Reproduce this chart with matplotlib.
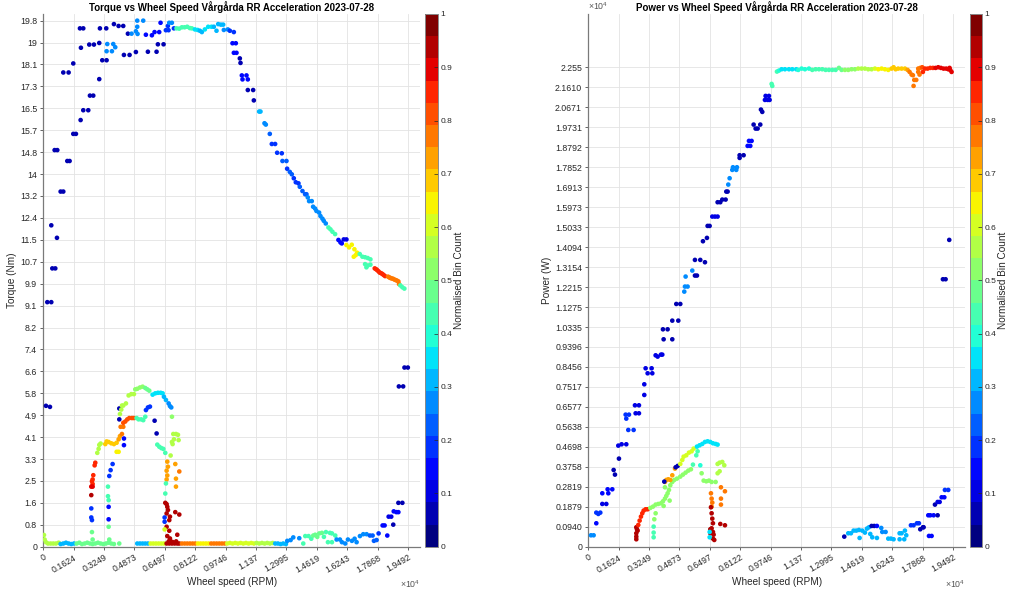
import numpy as np
import matplotlib
matplotlib.use("Agg")
import matplotlib.pyplot as plt
from matplotlib.colors import Normalize
import matplotlib.colorbar as mcolorbar

plt.rcParams['font.family'] = ['Liberation Sans', 'DejaVu Sans']
plt.rcParams['mathtext.fontset'] = 'custom'
plt.rcParams['mathtext.rm'] = 'Liberation Sans'

# ---------------- Torque vs wheel speed data (RPM, Nm, normalised bin count) -------------
tq_low_rpm = [214, 427, 142, 356, 427, 730, 481, 641, 605, 748, 1282, 1406, 926, 1068, 1602, 1744,
              1994, 2136, 2403, 2492, 2670, 1068, 1353, 1602, 2990, 2011, 1958, 2136, 2456, 2706,
              2990, 3026, 3364, 3151, 3382]
tq_low_nm = [9.20, 9.20, 5.30, 5.26, 12.09, 11.62, 10.47, 10.47, 14.92, 14.92, 14.51, 14.51, 13.36,
             13.36, 15.53, 15.53, 16.05, 16.42, 16.42, 16.97, 16.97, 17.84, 17.84, 18.18, 17.59,
             18.77, 19.50, 19.50, 18.89, 18.89, 18.95, 19.50, 19.50, 18.30, 18.30]
tq_low_c = [0.07] * len(tq_low_rpm)

tq_top_rpm = [3418, 3382, 3667, 3738, 3845, 3774, 4023, 4272, 4308, 4610, 4521, 4717, 4948, 5020,
              5020, 4948, 5037, 5340, 5482, 5803, 5945, 6194, 5589, 6052, 6123, 6426, 6266, 6550,
              6693, 6657, 6728, 6871, 6978, 7120, 7262, 7405, 7547, 7690, 7832, 7939, 8102, 8245,
              8366, 8473, 8633, 8811, 8989, 9114, 9256, 9345, 9487, 9612, 9648, 9861, 9968, 10182]
tq_top_nm = [18.91, 18.64, 18.64, 18.91, 18.79, 19.66, 19.59, 19.59, 18.50, 18.50, 19.30, 19.30,
             18.61, 19.79, 19.56, 19.39, 19.29, 19.79, 19.26, 19.24, 19.36, 19.36, 18.62, 18.62,
             18.90, 18.90, 19.71, 19.43, 19.43, 19.59, 19.71, 19.71, 19.50, 19.50, 19.49, 19.54,
             19.54, 19.56, 19.51, 19.50, 19.46, 19.44, 19.41, 19.36, 19.46, 19.56, 19.56, 19.56,
             19.41, 19.66, 19.64, 19.64, 19.44, 19.46, 19.41, 19.36]
tq_top_c = [0.25, 0.25, 0.25, 0.25, 0.25, 0.07, 0.07, 0.07, 0.07, 0.07, 0.07, 0.25, 0.07, 0.28,
            0.28, 0.28, 0.28, 0.28, 0.15, 0.15, 0.15, 0.15, 0.07, 0.07, 0.07, 0.07, 0.15, 0.2,
            0.2, 0.2, 0.25, 0.25, 0.2, 0.45, 0.45, 0.45, 0.45, 0.45, 0.45, 0.42, 0.35, 0.35,
            0.33, 0.33, 0.35, 0.35, 0.35, 0.33, 0.3, 0.32, 0.32, 0.32, 0.25, 0.25, 0.2, 0.2]

tq_fall_rpm = [10110, 10288, 10182, 10324, 10502, 10538, 10609, 10858, 10645, 10929, 10929, 11214,
               11250, 11534, 11606, 11820, 11891, 12104, 12211, 12389, 12496, 12745, 12780, 12994,
               13030, 13172, 13279, 13386, 13493, 13635, 13706, 13849, 13991, 14062, 14133, 14204,
               14347, 14418, 14525, 14596, 14738, 14810, 14916, 14988, 15094, 15237, 15344, 15451,
               15593, 15771, 15878, 15949, 16056, 16198, 16198, 16340, 16483, 16625, 16590, 16696,
               16768, 16910, 17052, 17195, 17337, 17480, 17195, 17337, 17480, 17266, 17711, 17780,
               17836, 17910, 17978, 18050, 18120, 18190, 18263, 18423, 18490, 18548, 18620, 18690,
               18760, 18832, 18900, 18975, 19010, 19082, 19188, 19295, 19000, 19230, 19300, 19480]
tq_fall_nm = [18.94, 18.94, 18.58, 18.58, 18.37, 18.20, 17.73, 17.73, 17.58, 17.58, 17.18, 17.18,
              16.79, 16.37, 16.37, 15.93, 15.88, 15.53, 15.15, 15.15, 14.82, 14.80, 14.51, 14.51,
              14.22, 14.10, 14.01, 13.86, 13.71, 13.67, 13.54, 13.38, 13.26, 13.26, 13.14, 13.00,
              13.00, 12.79, 12.72, 12.63, 12.57, 12.44, 12.34, 12.26, 12.16, 12.01, 11.94, 11.85,
              11.76, 11.54, 11.45, 11.41, 11.56, 11.56, 11.35, 11.26, 11.36, 11.19, 10.91, 10.97,
              11.06, 11.01, 10.91, 10.89, 10.86, 10.81, 10.63, 10.58, 10.61, 10.51, 10.47, 10.44,
              10.41, 10.36, 10.31, 10.29, 10.26, 10.22, 10.18, 10.16, 10.13, 10.11, 10.09, 10.08,
              10.05, 10.03, 10.01, 9.98, 9.88, 9.83, 9.76, 9.71, 6.03, 6.03, 6.74, 6.74]
tq_fall_c = [0.15, 0.15, 0.15, 0.15, 0.07, 0.07, 0.15, 0.15, 0.15, 0.15, 0.07, 0.07, 0.07, 0.3, 0.3,
             0.28, 0.28, 0.22, 0.2, 0.2, 0.2, 0.2, 0.22, 0.22, 0.2, 0.22, 0.22, 0.2, 0.2, 0.2, 0.22,
             0.22, 0.22, 0.22, 0.25, 0.25, 0.25, 0.25, 0.25, 0.25, 0.25, 0.25, 0.25, 0.25, 0.25,
             0.45, 0.45, 0.45, 0.45, 0.15, 0.15, 0.15, 0.1, 0.1, 0.65, 0.65, 0.65, 0.65, 0.65, 0.65,
             0.65, 0.42, 0.42, 0.42, 0.42, 0.42, 0.42, 0.42, 0.42, 0.42, 0.85, 0.85, 0.85, 0.85,
             0.85, 0.85, 0.85, 0.85, 0.85, 0.75, 0.75, 0.75, 0.75, 0.75, 0.75, 0.75, 0.75, 0.75,
             0.75, 0.42, 0.42, 0.42, 0.07, 0.07, 0.07, 0.07]

tq_arch_rpm = [2778, 2743, 2671, 2636, 2600, 2636, 2564, 2636, 2564, 2564, 2564, 2600, 2600, 2636,
               2885, 2956, 2992, 3063, 3313, 3384, 3491, 3633, 3776, 3918, 4025, 4096, 4203, 4132,
               4274, 4274, 4381, 4488, 4595, 4737, 4844, 4061, 4061, 4310, 4310, 3918, 4025, 4987,
               5093, 5236, 5342, 5449, 4096, 4167, 4274, 4203, 4417, 4559, 4701, 4844, 4915, 5022,
               5165, 5307, 5449, 5556, 5663, 5841, 5983, 6127, 6270, 6376, 6447, 6554, 6697, 6768,
               6839, 3491, 3491, 3491, 3526, 3455, 3455, 3491, 3526, 3597, 3704, 5485, 5592, 5699,
               5948, 6055, 6091, 6198, 6305, 6412, 6519, 6875, 6946, 7089, 7196, 7231, 6982, 6910,
               6804, 6875, 6626, 6661, 6590, 6626, 6590, 7053, 7267, 7089, 7089, 6554, 6519, 6519,
               6590, 6626, 6661, 6590, 6768, 6732, 6590, 6732, 6626, 6768, 6768, 6483, 6483, 6483,
               7053, 7267, 7160]
tq_arch_nm = [3.16, 3.06, 2.69, 2.53, 2.46, 2.36, 2.26, 2.26, 1.94, 1.44, 1.10, 1.00, 0.55, 0.27,
              3.53, 3.68, 3.83, 3.88, 3.86, 3.96, 3.94, 3.89, 3.86, 3.91, 4.04, 4.16, 4.24, 4.51,
              4.51, 4.66, 4.71, 4.79, 4.84, 4.84, 4.84, 5.20, 4.79, 4.07, 3.82, 3.57, 3.57, 4.84,
              4.79, 4.79, 4.76, 4.89, 4.99, 5.16, 5.31, 5.31, 5.39, 5.69, 5.74, 5.74, 5.92, 5.94,
              5.99, 6.02, 5.97, 5.92, 5.87, 5.72, 5.77, 5.79, 5.79, 5.77, 5.64, 5.52, 5.39, 5.29,
              5.24, 1.50, 1.03, 0.75, 0.27, 2.26, 1.90, 1.75, 2.66, 2.88, 3.11, 5.14, 5.24, 5.27,
              4.74, 4.26, 3.84, 3.76, 3.71, 3.68, 3.53, 4.89, 4.24, 4.24, 4.21, 4.01, 4.04, 3.86,
              3.43, 3.94, 3.20, 3.01, 2.86, 2.68, 2.53, 3.11, 2.83, 2.56, 2.26, 2.38, 2.00, 1.65,
              1.60, 1.50, 1.38, 1.25, 1.13, 1.00, 0.75, 0.60, 0.40, 0.31, 0.22, 1.10, 0.94, 0.65,
              1.30, 1.21, 0.45]
tq_arch_c = [0.85, 0.85, 0.85, 0.85, 0.85, 0.85, 0.88, 0.88, 0.92, 0.17, 0.17, 0.17, 0.48, 0.48,
             0.55, 0.55, 0.55, 0.55, 0.7, 0.7, 0.7, 0.7, 0.7, 0.7, 0.72, 0.72, 0.75, 0.78, 0.78, 0.8,
             0.8, 0.8, 0.8, 0.8, 0.8, 0.07, 0.07, 0.15, 0.15, 0.65, 0.65, 0.45, 0.45, 0.45, 0.45,
             0.45, 0.55, 0.55, 0.55, 0.55, 0.55, 0.55, 0.55, 0.55, 0.5, 0.5, 0.5, 0.5, 0.48, 0.48,
             0.48, 0.35, 0.35, 0.35, 0.35, 0.35, 0.33, 0.3, 0.27, 0.25, 0.25, 0.15, 0.15, 0.48,
             0.48, 0.42, 0.42, 0.42, 0.18, 0.18, 0.18, 0.2, 0.2, 0.2, 0.07, 0.07, 0.45, 0.45, 0.45,
             0.45, 0.45, 0.5, 0.55, 0.55, 0.55, 0.55, 0.55, 0.55, 0.55, 0.55, 0.72, 0.72, 0.72,
             0.72, 0.72, 0.72, 0.75, 0.72, 0.72, 0.45, 0.45, 0.95, 0.95, 0.95, 0.95, 0.95, 0.95,
             0.95, 0.95, 0.95, 0.95, 0.95, 0.95, 0.2, 0.2, 0.6, 0.95, 0.95, 0.95]

tq_base_rpm = [36, 71, 142, 249, 392, 534, 677, 819, 926, 1068, 1211, 1353, 1496, 1639, 1781, 1923,
               2065, 2208, 2350, 2492, 2635, 2777, 2919, 3062, 3204, 3346, 3489, 3631, 3774, 4059,
               5022, 5165, 5307, 5450, 5592, 5735, 5877, 6020, 6162, 6305, 6447, 6590, 6732, 6875,
               7017, 7160, 7267, 6700, 6900, 7100, 7409, 7552, 7694, 7836, 7979, 8121, 8264, 8406,
               8549, 8691, 8833, 8976, 9118, 9261, 9403, 9545, 9688, 9830, 9973, 10115, 10258,
               10400, 10543, 10685, 10828, 10970, 11113, 11255, 11398, 11540, 11683, 11825, 11968,
               12110, 12253, 12395, 12538, 12680, 12823, 12965, 13037, 13216, 13358, 13678, 13892,
               13999, 14177, 14320, 14427, 14533, 14640, 14747, 14889, 14996, 15103, 15210, 15317,
               15424, 15602, 15424, 15673, 15851, 15958, 16136, 16279, 16492, 16635, 16742, 16920,
               17098, 17276, 17454, 17597, 17668, 17811, 17918, 18132, 18239, 18382, 18454, 18594,
               18701, 18726, 18868, 18975, 18975, 19188]
tq_base_nm = [0.44, 0.27, 0.17, 0.12, 0.12, 0.12, 0.12, 0.15, 0.10, 0.12, 0.15, 0.12, 0.10, 0.12,
              0.12, 0.15, 0.10, 0.12, 0.15, 0.12, 0.10, 0.12, 0.15, 0.12, 0.10, 0.12, 0.15, 0.12,
              0.10, 0.12, 0.12, 0.12, 0.12, 0.12, 0.12, 0.12, 0.12, 0.12, 0.12, 0.12, 0.12, 0.12,
              0.12, 0.12, 0.12, 0.12, 0.12, 0.20, 0.18, 0.20, 0.12, 0.12, 0.12, 0.12, 0.12, 0.12,
              0.12, 0.12, 0.12, 0.12, 0.12, 0.12, 0.12, 0.12, 0.12, 0.12, 0.12, 0.12, 0.14, 0.12,
              0.14, 0.12, 0.14, 0.12, 0.14, 0.12, 0.14, 0.12, 0.14, 0.12, 0.14, 0.12, 0.14, 0.12,
              0.14, 0.12, 0.12, 0.10, 0.12, 0.10, 0.22, 0.25, 0.35, 0.32, 0.12, 0.40, 0.40, 0.30,
              0.42, 0.45, 0.37, 0.50, 0.52, 0.37, 0.55, 0.17, 0.52, 0.50, 0.42, 0.17, 0.27, 0.27,
              0.17, 0.12, 0.27, 0.22, 0.30, 0.17, 0.40, 0.47, 0.47, 0.42, 0.42, 0.22, 0.25, 0.50,
              0.80, 0.80, 0.42, 1.13, 1.13, 0.83, 1.33, 1.30, 1.30, 1.65, 1.65]
tq_base_c = [0.55, 0.55, 0.55, 0.55, 0.55, 0.55, 0.55, 0.55, 0.33, 0.33, 0.33, 0.33, 0.33, 0.33,
             0.47, 0.47, 0.47, 0.47, 0.47, 0.47, 0.47, 0.47, 0.47, 0.47, 0.47, 0.47, 0.47, 0.47,
             0.47, 0.47, 0.3, 0.3, 0.3, 0.3, 0.3, 0.6, 0.6, 0.6, 0.6, 0.6, 0.6, 0.95, 0.95, 0.95,
             0.95, 0.95, 0.95, 0.95, 0.95, 0.95, 0.75, 0.75, 0.75, 0.75, 0.75, 0.75, 0.65, 0.65,
             0.65, 0.65, 0.65, 0.75, 0.75, 0.75, 0.75, 0.75, 0.75, 0.6, 0.6, 0.6, 0.6, 0.6, 0.6,
             0.6, 0.6, 0.6, 0.6, 0.6, 0.55, 0.55, 0.55, 0.55, 0.55, 0.55, 0.55, 0.3, 0.3, 0.3, 0.3,
             0.3, 0.25, 0.25, 0.25, 0.25, 0.45, 0.45, 0.45, 0.45, 0.47, 0.47, 0.47, 0.47, 0.47,
             0.45, 0.45, 0.45, 0.45, 0.45, 0.45, 0.45, 0.27, 0.27, 0.27, 0.27, 0.27, 0.25, 0.25,
             0.25, 0.25, 0.25, 0.25, 0.22, 0.22, 0.22, 0.22, 0.2, 0.15, 0.15, 0.15, 0.1, 0.1, 0.07,
             0.15, 0.15, 0.15, 0.07, 0.07]

# ---------------- Power vs wheel speed data (RPM, W, normalised bin count) -------------
pw_rise_rpm = [142, 285, 427, 427, 534, 641, 748, 962, 748, 1069, 1033, 1282, 1354, 1425, 1638,
               1603, 1781, 2030, 2137, 2422, 1995, 2173, 2030, 2493, 2707, 2529, 2707, 2992, 2992,
               3063, 3384, 3170, 3420, 3598, 3705, 3883, 3954, 3989, 4239, 4025, 4488, 4488, 4809,
               4702, 4916, 5129, 5165, 5307, 5200, 5557, 5699, 5806, 5699, 5984, 6234, 6127, 6340,
               6376, 6483, 6626, 6768, 6910, 6910, 7053, 7160, 7338, 7374, 7445, 7480, 7552, 7694,
               7943, 7730, 7907, 8086, 8086, 8300, 8514, 8656, 8585, 8727, 8834, 8941, 9048, 9190,
               9226, 9297, 9439, 9582, 9475, 9653, 9689, 9796, 9831, 10081, 10188]
pw_rise_w = [537, 537, 1102, 1603, 1541, 1603, 2011, 2011, 2513, 2513, 2701, 2701, 3610, 3391,
             4144, 4755, 4818, 4818, 5492, 5492, 6213, 6213, 6025, 6652, 6652, 6276, 6276, 7640,
             7138, 8393, 8393, 8158, 8158, 9004, 8942, 9036, 9036, 10227, 10227, 9757, 9757, 10635,
             10635, 11419, 11419, 12000, 12238, 12238, 12708, 12990, 12755, 12755, 13492, 13492,
             13382, 14370, 14527, 15091, 15091, 15530, 15530, 15530, 16205, 16205, 16330, 16330,
             16706, 16706, 17036, 17334, 17726, 17851, 17851, 17726, 18416, 18290, 18416, 18855,
             18855, 19090, 19090, 19858, 19670, 19670, 19858, 20564, 20454, 21018, 21018, 21207,
             21207, 21018, 21771, 21677, 22351, 22398]
pw_rise_c = [0.25, 0.25, 0.15, 0.18, 0.18, 0.18, 0.12, 0.12, 0.15, 0.15, 0.15, 0.15, 0.07, 0.07,
             0.07, 0.12, 0.12, 0.12, 0.2, 0.2, 0.2, 0.2, 0.2, 0.12, 0.12, 0.12, 0.12, 0.1, 0.1,
             0.12, 0.12, 0.12, 0.12, 0.12, 0.12, 0.12, 0.12, 0.07, 0.07, 0.07, 0.07, 0.07, 0.07,
             0.07, 0.07, 0.25, 0.25, 0.25, 0.25, 0.25, 0.07, 0.07, 0.07, 0.07, 0.07, 0.07, 0.07,
             0.07, 0.07, 0.1, 0.1, 0.1, 0.07, 0.07, 0.07, 0.07, 0.07, 0.07, 0.25, 0.25, 0.25, 0.25,
             0.25, 0.25, 0.07, 0.07, 0.07, 0.15, 0.15, 0.15, 0.15, 0.07, 0.07, 0.07, 0.07, 0.07,
             0.07, 0.12, 0.12, 0.12, 0.12, 0.12, 0.42, 0.42, 0.42, 0.38]

pw_flat_rpm = [10330, 10508, 10722, 10900, 11114, 11221, 11399, 11577, 11791, 11968, 12146, 12325,
               12503, 12681, 12859, 13037, 13216, 13394, 13536, 13714, 13892, 14070, 14248, 14426,
               14604, 14782, 14960, 15139, 15317, 15495, 15673, 15851, 16029, 16207, 16314, 16421,
               16563, 16741, 16919, 17062, 17168, 17275, 17346, 17418, 17524, 17382, 17630, 17701,
               17630, 17737, 17844, 17879, 17987, 18130, 18272, 18415, 18557, 18700, 18842, 18985,
               19128, 19235, 19341, 19413, 19306, 19288, 18950, 19093]
pw_flat_w = [22461, 22461, 22461, 22461, 22461, 22430, 22492, 22461, 22492, 22430, 22461, 22461,
             22461, 22430, 22430, 22430, 22430, 22524, 22430, 22430, 22430, 22461, 22461, 22492,
             22492, 22492, 22461, 22461, 22492, 22461, 22492, 22461, 22430, 22492, 22555, 22461,
             22492, 22492, 22492, 22430, 22335, 22210, 22179, 21959, 21959, 21677, 22335, 22210,
             22492, 22524, 22555, 22335, 22492, 22492, 22524, 22524, 22524, 22555, 22524, 22492,
             22492, 22461, 22430, 22335, 22524, 14433, 12582, 12582]
pw_flat_c = [0.35, 0.35, 0.35, 0.36, 0.37, 0.38, 0.38, 0.4, 0.4, 0.42, 0.42, 0.45, 0.45, 0.45, 0.45,
             0.45, 0.45, 0.47, 0.48, 0.5, 0.5, 0.5, 0.52, 0.55, 0.55, 0.57, 0.58, 0.58, 0.6, 0.63,
             0.65, 0.65, 0.65, 0.68, 0.7, 0.7, 0.7, 0.7, 0.7, 0.72, 0.75, 0.75, 0.75, 0.75, 0.75,
             0.75, 0.75, 0.75, 0.75, 0.78, 0.82, 0.85, 0.85, 0.85, 0.85, 0.85, 0.88, 0.88, 0.9,
             0.9, 0.9, 0.9, 0.88, 0.9, 0.9, 0.07, 0.07, 0.07]

pw_arch_rpm = [2565, 2600, 2565, 2565, 2565, 2636, 2671, 2743, 2814, 2885, 2956, 3063, 3170, 3313,
               3456, 3598, 3740, 3883, 3989, 4096, 4167, 4239, 4310, 4381, 4488, 4595, 4738, 4916,
               5058, 5200, 5343, 5485, 5592, 5770, 4025, 3598, 3527, 3491, 3491, 3491, 4096, 4346,
               4096, 4167, 4274, 4381, 4488, 4631, 4061, 4667, 4774, 4916, 5022, 5094, 5236, 5378,
               5521, 5628, 5842, 5806, 5948, 6091, 6234, 6376, 6519, 6661, 6804, 6910, 5984, 6056,
               6163, 6305, 6447, 6590, 6804, 6910, 7017, 7160, 7267, 6910, 7017, 6555, 6590, 6626,
               6590, 7089, 7302, 7089, 7089, 6555, 6590, 6626, 6661, 6590, 6661, 6697, 6661, 6732,
               6519, 6519, 6484, 6484, 7053, 7302]
pw_arch_w = [914, 819, 631, 475, 349, 756, 1023, 1227, 1415, 1572, 1697, 1760, 1760, 1823, 1885,
             1980, 2011, 2042, 2136, 2262, 2387, 2513, 2670, 2889, 3046, 3140, 3203, 3297, 3391,
             3485, 3579, 3642, 3861, 4300, 1917, 1572, 1290, 945, 663, 443, 2795, 2168, 3046, 3140,
             3171, 3140, 3360, 3673, 3062, 3736, 3799, 3893, 4081, 4237, 4300, 4426, 4488, 4614,
             4488, 4708, 4771, 4834, 4928, 4959, 4928, 4865, 4834, 4803, 3830, 3454, 3109, 3077,
             3109, 3046, 3046, 3893, 3955, 3987, 3830, 3454, 3548, 2513, 2262, 2074, 1885, 2795,
             2607, 2262, 1980, 1854, 1572, 1321, 1102, 866, 694, 568, 380, 317, 631, 819, 694, 443,
             1070, 1008]
pw_arch_c = [0.95, 0.95, 0.95, 0.95, 0.95, 0.95, 0.87, 0.87, 0.87, 0.85, 0.85, 0.85, 0.85, 0.5,
             0.5, 0.5, 0.5, 0.5, 0.5, 0.5, 0.5, 0.5, 0.5, 0.5, 0.5, 0.5, 0.5, 0.5, 0.5, 0.5, 0.5,
             0.5, 0.45, 0.42, 0.5, 0.5, 0.5, 0.45, 0.45, 0.45, 0.5, 0.5, 0.72, 0.72, 0.72, 0.72,
             0.72, 0.72, 0.07, 0.07, 0.07, 0.6, 0.6, 0.6, 0.6, 0.6, 0.6, 0.62, 0.42, 0.35, 0.35,
             0.35, 0.35, 0.35, 0.35, 0.35, 0.35, 0.35, 0.4, 0.5, 0.5, 0.5, 0.5, 0.5, 0.5, 0.55,
             0.55, 0.55, 0.55, 0.55, 0.55, 0.75, 0.75, 0.75, 0.75, 0.75, 0.75, 0.75, 0.75, 0.95,
             0.95, 0.95, 0.95, 0.95, 0.95, 0.95, 0.95, 0.95, 0.95, 0.95, 0.35, 0.35, 0.95, 0.95]

pw_tail_rpm = [13678, 13892, 14035, 14177, 14320, 14462, 14498, 14640, 14782, 14889, 14996, 15067,
               15174, 15424, 15139, 15281, 15424, 15655, 15709, 15887, 16029, 16172, 16314, 16635,
               16742, 16635, 16884, 16920, 16991, 17240, 17382, 17560, 17668, 17739, 17882, 17918,
               18168, 18275, 18454, 18668, 18204, 18346, 18525, 18668, 18775, 18882, 19025, 19057,
               19235]
pw_tail_w = [474, 632, 632, 757, 757, 788, 412, 757, 663, 851, 914, 600, 443, 412, 976, 976, 976,
             882, 694, 694, 380, 380, 349, 632, 632, 349, 349, 757, 537, 1008, 1008, 1102, 1102,
             819, 914, 914, 1478, 1478, 1478, 1478, 506, 506, 1980, 2105, 2105, 2325, 2325, 2670,
             2670]
pw_tail_c = [0.05, 0.33, 0.33, 0.33, 0.33, 0.33, 0.33, 0.33, 0.33, 0.33, 0.33, 0.33, 0.33, 0.33,
             0.07, 0.07, 0.15, 0.27, 0.27, 0.27, 0.33, 0.33, 0.33, 0.33, 0.33, 0.33, 0.33, 0.33,
             0.33, 0.2, 0.2, 0.2, 0.2, 0.07, 0.07, 0.07, 0.15, 0.15, 0.15, 0.07, 0.15, 0.15, 0.07,
             0.1, 0.1, 0.15, 0.15, 0.18, 0.18]

# ---------------- tick labels ----------------
x_tick_labels = ['0', '0.1624', '0.3249', '0.4873', '0.6497', '0.8122', '0.9746', '1.137',
                 '1.2995', '1.4619', '1.6243', '1.7868', '1.9492']
tq_tick_labels = ['0', '0.8', '1.6', '2.5', '3.3', '4.1', '4.9', '5.8', '6.6', '7.4', '8.2', '9.1',
                  '9.9', '10.7', '11.5', '12.4', '13.2', '14', '14.8', '15.7', '16.5', '17.3',
                  '18.1', '19', '19.8']
pw_tick_labels = ['0', '0.0940', '0.1879', '0.2819', '0.3758', '0.4698', '0.5638', '0.6577',
                  '0.7517', '0.8456', '0.9396', '1.0335', '1.1275', '1.2215', '1.3154', '1.4094',
                  '1.5033', '1.5973', '1.6913', '1.7852', '1.8792', '1.9731', '2.0671', '2.1610',
                  '2.255']
cbar_ticks = [0, 0.1, 0.2, 0.3, 0.4, 0.5, 0.6, 0.7, 0.8, 0.9, 1]
cbar_labels = ['0', '0.1', '0.2', '0.3', '0.4', '0.5', '0.6', '0.7', '0.8', '0.9', '1']

x_max_tick = 19492
tq_max_tick = 19.79
pw_max_tick = 22550

# ---------------- figure ----------------
W, H = 1013, 597
fig = plt.figure(figsize=(W / 100, H / 100), dpi=100)
cmap = plt.get_cmap('jet', 24)
norm = Normalize(0, 1)
txt = '#262626'


def fx(px):
    return px / W


def fy(py):
    return 1 - py / H


ax_top, ax_bot = 14, 546.7
ax1 = fig.add_axes([fx(43.3), fy(ax_bot), fx(420 - 43.3), (ax_bot - ax_top) / H])
cax1 = fig.add_axes([fx(425), fy(ax_bot), fx(12.5), (ax_bot - ax_top) / H])
ax2 = fig.add_axes([fx(588.3), fy(ax_bot), fx(965 - 588.3), (ax_bot - ax_top) / H])
cax2 = fig.add_axes([fx(969.5), fy(ax_bot), fx(12.5), (ax_bot - ax_top) / H])

xt = np.linspace(0, x_max_tick, len(x_tick_labels))


def style(ax, yticks, ylabels, ylim, ylab, title):
    ax.set_xlim(0, 20130)
    ax.set_ylim(*ylim)
    ax.set_xticks(xt)
    ax.set_xticklabels(x_tick_labels, rotation=30, ha='right', rotation_mode='anchor')
    ax.set_yticks(yticks)
    ax.set_yticklabels(ylabels)
    ax.tick_params(axis='both', labelsize=6.3, colors=txt, length=2.5, width=0.5, direction='out', pad=2)
    ax.grid(True, color='#e3e3e3', linewidth=0.6)
    ax.set_axisbelow(True)
    for s in ['top', 'right']:
        ax.spines[s].set_visible(False)
    for s in ['left', 'bottom']:
        ax.spines[s].set_color('#7a7a7a')
        ax.spines[s].set_linewidth(0.9)
    ax.set_xlabel('Wheel speed (RPM)', fontsize=7.2, color=txt, labelpad=2)
    ax.set_ylabel(ylab, fontsize=7.2, color=txt, labelpad=2)
    ax.set_title(title, fontsize=7, fontweight='bold', color='black', pad=2)


def cbar(cax):
    cb = mcolorbar.ColorbarBase(cax, cmap=cmap, norm=norm, ticks=cbar_ticks)
    cb.ax.set_yticklabels(cbar_labels)
    cb.ax.tick_params(labelsize=6, colors=txt, length=3, width=0.5, direction='in', pad=2)
    cb.outline.set_edgecolor('#8a8a8a')
    cb.outline.set_linewidth(0.7)
    cb.set_label('Normalised Bin Count', fontsize=7.2, color=txt, labelpad=1)


# torque plot
tq_x = tq_low_rpm + tq_top_rpm + tq_fall_rpm + tq_arch_rpm + tq_base_rpm
tq_y = tq_low_nm + tq_top_nm + tq_fall_nm + tq_arch_nm + tq_base_nm
tq_c = tq_low_c + tq_top_c + tq_fall_c + tq_arch_c + tq_base_c
ax1.scatter(tq_x, tq_y, c=tq_c, cmap=cmap, norm=norm, s=11, linewidths=0, zorder=3)
style(ax1, np.linspace(0, tq_max_tick, len(tq_tick_labels)), tq_tick_labels, (0, 20.04),
      'Torque (Nm)', 'Torque vs Wheel Speed Vårgårda RR Acceleration 2023-07-28')
cbar(cax1)

# power plot
pw_x = pw_rise_rpm + pw_flat_rpm + pw_arch_rpm + pw_tail_rpm
pw_y = pw_rise_w + pw_flat_w + pw_arch_w + pw_tail_w
pw_c = pw_rise_c + pw_flat_c + pw_arch_c + pw_tail_c
ax2.scatter(pw_x, pw_y, c=pw_c, cmap=cmap, norm=norm, s=11, linewidths=0, zorder=3)
style(ax2, np.linspace(0, pw_max_tick, len(pw_tick_labels)), pw_tick_labels, (0, 25060),
      'Power (W)', 'Power vs Wheel Speed Vårgårda RR Acceleration 2023-07-28')
cbar(cax2)

# exponent labels
mult = r'$\times\mathregular{10^{4}}$'
ax1.text(1.0, -0.06, mult, transform=ax1.transAxes, ha='right', va='top', fontsize=6.3, color='#555555')
ax2.text(1.0, -0.06, mult, transform=ax2.transAxes, ha='right', va='top', fontsize=6.3, color='#555555')
ax2.text(0.0, 1.003, mult, transform=ax2.transAxes, ha='left', va='bottom', fontsize=6.3, color='#555555')

fig.savefig('out.png', dpi=100)
